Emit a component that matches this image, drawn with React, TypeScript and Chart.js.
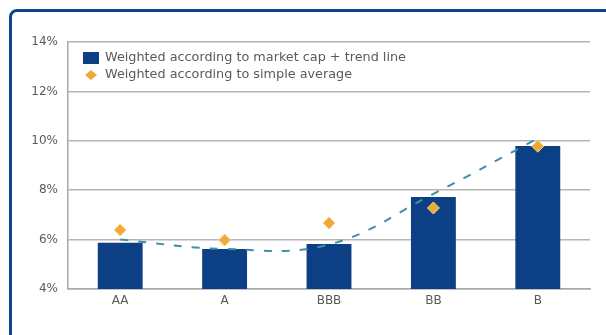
import React, { useEffect, useRef } from "react";
import { Chart, registerables } from "chart.js";

Chart.register(...registerables);

const categories = ["AA", "A", "BBB", "BB", "B"];
const marketCapValues = [5.87, 5.62, 5.82, 7.72, 9.79];
const simpleAverageValues = [6.39, 5.98, 6.67, 7.28, 9.78];
const trendValues = [6.0, 5.62, 5.8, 7.85, 10.1];
const legendLabels = [
  "Weighted according to market cap + trend line",
  "Weighted according to simple average",
];

const NAVY = "#0d3f84";
const ORANGE = "#f0a836";
const TEAL = "#3f8fa8";
const FONT = "'DejaVu Sans', Verdana, sans-serif";

const legendPlugin = {
  id: "insideLegend",
  afterDraw(chart: any) {
    const ctx = chart.ctx;
    const x0 = chart.chartArea.left;
    const y0 = chart.chartArea.top;
    ctx.save();
    ctx.fillStyle = NAVY;
    ctx.fillRect(x0 + 15, y0 + 10, 16, 12);
    const cx = x0 + 23;
    const cy = y0 + 33;
    ctx.fillStyle = ORANGE;
    ctx.beginPath();
    ctx.moveTo(cx, cy - 5);
    ctx.lineTo(cx + 6, cy);
    ctx.lineTo(cx, cy + 5);
    ctx.lineTo(cx - 6, cy);
    ctx.closePath();
    ctx.fill();
    ctx.fillStyle = "#5a5a5a";
    ctx.font = `12.8px ${FONT}`;
    ctx.textBaseline = "middle";
    ctx.fillText(legendLabels[0], x0 + 37, y0 + 16);
    ctx.fillText(legendLabels[1], x0 + 37, y0 + 33);
    ctx.restore();
  },
};

export default function App() {
  const ref = useRef<HTMLCanvasElement | null>(null);
  useEffect(() => {
    if (!ref.current) return;
    const chart = new Chart(ref.current, {
      data: {
        labels: categories,
        datasets: [
          {
            type: "line",
            label: "Trend",
            data: trendValues,
            borderColor: TEAL,
            borderWidth: 2,
            borderDash: [8, 10],
            pointRadius: 0,
            tension: 0.4,
            fill: false,
            order: 1,
          } as any,
          {
            type: "line",
            label: legendLabels[1],
            data: simpleAverageValues,
            showLine: false,
            pointStyle: "rectRot",
            pointRadius: 6,
            pointBackgroundColor: ORANGE,
            pointBorderColor: "#f7d48a",
            pointBorderWidth: 1,
            order: 0,
          } as any,
          {
            type: "bar",
            label: legendLabels[0],
            data: marketCapValues,
            backgroundColor: NAVY,
            barPercentage: 0.43,
            categoryPercentage: 1,
            order: 2,
          } as any,
        ],
      },
      options: {
        animation: false,
        responsive: false,
        maintainAspectRatio: false,
        layout: { padding: { top: 42, right: 16, left: 0, bottom: 0 } },
        plugins: { legend: { display: false }, tooltip: { enabled: false } },
        scales: {
          x: {
            grid: { display: false, drawTicks: false },
            border: { color: "#a8a8a8", width: 1.5 },
            ticks: { color: "#5a5a5a", font: { size: 12, family: FONT }, padding: 5 },
            afterFit: (s: any) => {
              s.height = 46;
            },
          },
          y: {
            min: 4,
            max: 14,
            ticks: {
              stepSize: 2,
              color: "#5a5a5a",
              font: { size: 12, family: FONT },
              padding: 10,
              callback: (v: any) => `${v}%`,
            },
            grid: { color: "#b5b5b5", lineWidth: 1.5, drawTicks: false },
            border: { color: "#a8a8a8", width: 1.5 },
            afterFit: (s: any) => {
              s.width = 68;
            },
          },
        },
      },
      plugins: [legendPlugin],
    } as any);
    return () => chart.destroy();
  }, []);

  return (
    <div style={{ position: "fixed", inset: 0, overflow: "hidden", background: "#fff" }}>
      <div
        style={{
          position: "absolute",
          left: 9,
          top: 9,
          width: 640,
          height: 400,
          border: "3px solid #0b468c",
          borderRadius: 8,
          boxSizing: "border-box",
        }}
      />
      <canvas
        ref={ref}
        width={606}
        height={335}
        style={{ position: "absolute", left: 0, top: 0, width: 606, height: 335 }}
      />
    </div>
  );
}
